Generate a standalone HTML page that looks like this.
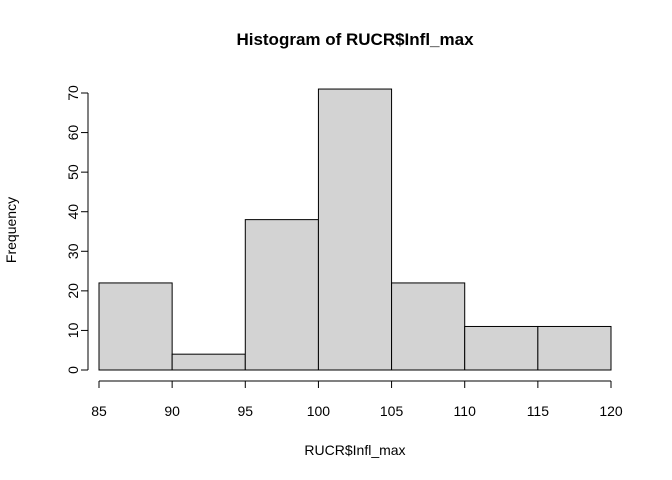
<!DOCTYPE html>
<html><head><meta charset="utf-8"><style>body{margin:0;background:#fff}svg{display:block}text{font-family:"Liberation Sans",Arial,sans-serif;fill:#000}</style></head>
<body>
<svg id="chart" width="672" height="480" xmlns="http://www.w3.org/2000/svg">
<text x="355" y="45" font-size="17" font-weight="bold" text-anchor="middle">Histogram of RUCR$Infl_max</text>
<text x="355" y="455" font-size="14" text-anchor="middle">RUCR$Infl_max</text>
<text transform="translate(16,230) rotate(-90)" font-size="14" text-anchor="middle">Frequency</text>
<g id="bars"></g><g id="xaxis"></g><g id="yaxis"></g>
</svg>
<script>
const breaks=[85,90,95,100,105,110,115,120];
const counts=[22,4,38,71,22,11,11];
const xTicks=[85,90,95,100,105,110,115,120];
const yTicks=[0,10,20,30,40,50,60,70];
const NS="http://www.w3.org/2000/svg";
const xs=v=>99+(v-85)*(611-99)/35;
const ys=v=>370-v*(370-93)/70;
function mk(t,a,p){const e=document.createElementNS(NS,t);for(const k in a)e.setAttribute(k,a[k]);p.appendChild(e);return e;}
const bars=document.getElementById('bars');
counts.forEach((c,i)=>{const r=mk('rect',{x:xs(breaks[i]),y:ys(c),width:xs(breaks[i+1])-xs(breaks[i]),height:ys(0)-ys(c),fill:'#d3d3d3',stroke:'#000','stroke-width':1},bars);

});
const xa=document.getElementById('xaxis');
const xl=mk('line',{x1:xs(xTicks[0]),x2:xs(xTicks[xTicks.length-1]),y1:381,y2:381,stroke:'#000'},xa);


xTicks.forEach(t=>{const l=mk('line',{x1:xs(t),x2:xs(t),y1:381,y2:388,stroke:'#000'},xa);


const tx=mk('text',{x:xs(t),y:416,'font-size':14,'text-anchor':'middle'},xa);tx.textContent=t;

});
const ya=document.getElementById('yaxis');
const yl=mk('line',{x1:88,x2:88,y1:ys(yTicks[0]),y2:ys(yTicks[yTicks.length-1]),stroke:'#000'},ya);


yTicks.forEach(t=>{const l=mk('line',{x1:81,x2:88,y1:ys(t),y2:ys(t),stroke:'#000'},ya);


const tx=mk('text',{transform:`translate(78,${ys(t)}) rotate(-90)`,'font-size':14,'text-anchor':'middle'},ya);tx.textContent=t;

});
</script>
</body></html>
